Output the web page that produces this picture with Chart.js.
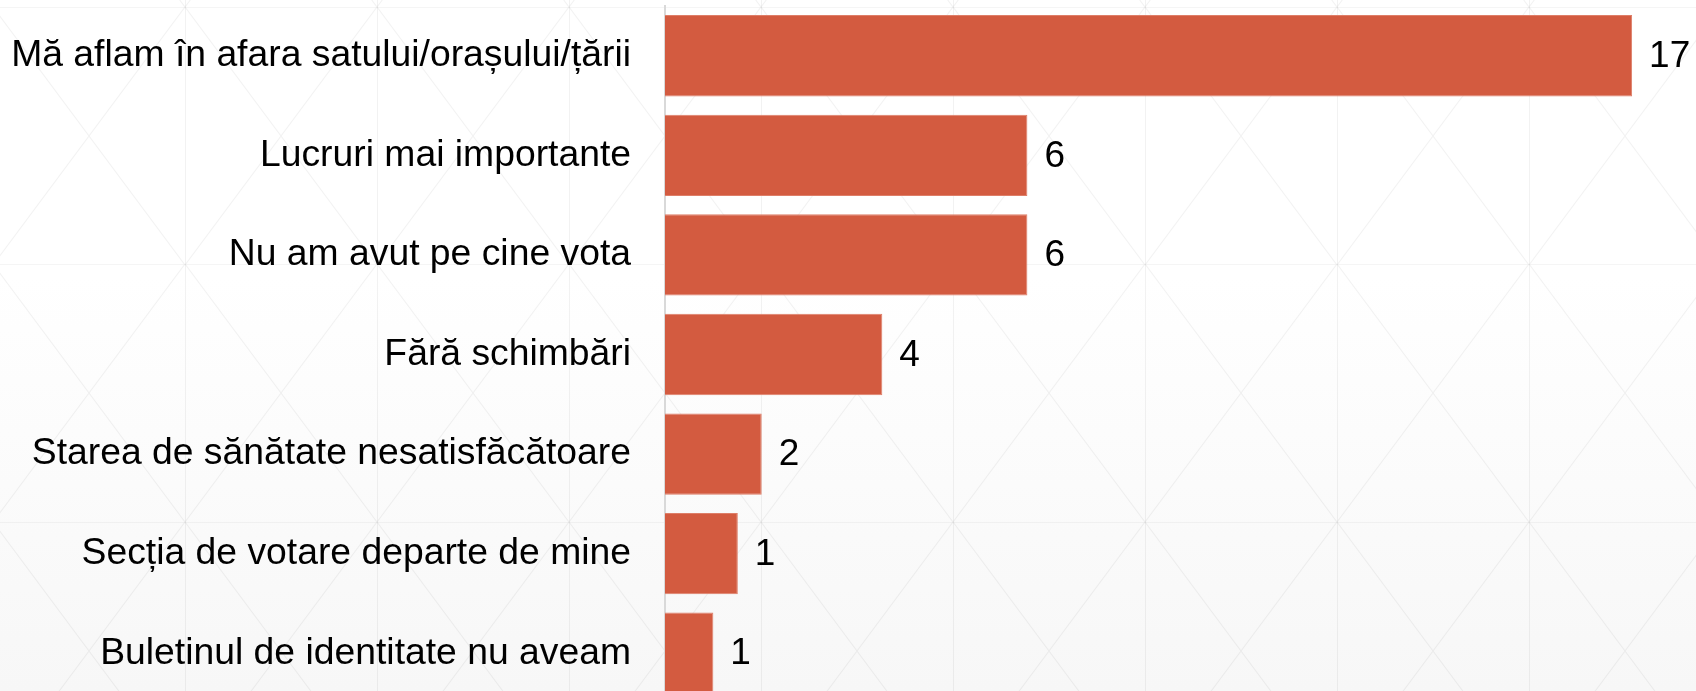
<!DOCTYPE html>
<html lang="ro">
<head>
<meta charset="utf-8">
<script src="https://cdn.jsdelivr.net/npm/chart.js@4"></script>
<style>
  html, body { margin: 0; padding: 0; width: 1696px; height: 691px; overflow: hidden; }
  body { background-color: #ffffff; }
  #wrap { position: absolute; left: 0; top: 0; width: 1696px; height: 703px; }
</style>
</head>
<body>
<div id="wrap"><canvas id="chart"></canvas></div>
<script>
// ---- data ----
const categories = [
  "Mă aflam în afara satului/orașului/țării",
  "Lucruri mai importante",
  "Nu am avut pe cine vota",
  "Fără schimbări",
  "Starea de sănătate nesatisfăcătoare",
  "Secția de votare departe de mine",
  "Buletinul de identitate nu aveam"
];
const shares = [17.0, 6.37, 6.37, 3.82, 1.70, 1.28, 0.85];
const xMin = 0;
const xMax = 18;

// ---- decorative page background (texture + soft gradient) ----
const tile = "<svg xmlns='http://www.w3.org/2000/svg' width='192' height='257.5'>" +
  "<path d='M0.5 0V257.5' stroke='rgba(0,0,0,0.05)' stroke-width='1' fill='none'/>" +
  "<path d='M0 0.5H192' stroke='rgba(0,0,0,0.04)' stroke-width='1' fill='none'/>" +
  "<path d='M0 0L192 257.5M192 0L0 257.5' stroke='rgba(0,0,0,0.05)' stroke-width='1' fill='none'/>" +
  "</svg>";
document.body.style.background =
  "url(\"data:image/svg+xml," + encodeURIComponent(tile) + "\") -7px 7px / 192px 257.5px repeat, " +
  "linear-gradient(#ffffff 0%, #ffffff 40%, #f7f7f7 100%)";

const FONT = "'Liberation Sans', Arial, Helvetica, sans-serif";
Chart.defaults.font.family = FONT;
Chart.defaults.color = "#000000";

const valueLabels = {
  id: "valueLabels",
  afterDatasetsDraw(chart) {
    const ctx = chart.ctx;
    const meta = chart.getDatasetMeta(0);
    ctx.save();
    ctx.font = "37px " + FONT;
    ctx.fillStyle = "#000000";
    ctx.textAlign = "left";
    ctx.textBaseline = "middle";
    meta.data.forEach((bar, i) => {
      const v = chart.data.datasets[0].data[i];
      ctx.fillText(String(Math.round(v)), bar.x + 17, bar.y + 1);
    });
    ctx.restore();
  }
};

new Chart(document.getElementById("chart"), {
  type: "bar",
  data: {
    labels: categories,
    datasets: [{
      data: shares,
      backgroundColor: "#D35B40",
      borderColor: "#DE7E68",
      borderWidth: 1,
      barPercentage: 0.817,
      categoryPercentage: 1.0
    }]
  },
  options: {
    indexAxis: "y",
    responsive: true,
    maintainAspectRatio: false,
    animation: false,
    events: [],
    layout: { padding: { top: 6, right: 7, bottom: 0, left: 0 } },
    plugins: { legend: { display: false }, tooltip: { enabled: false } },
    scales: {
      x: {
        display: false,
        min: xMin,
        max: xMax
      },
      y: {
        z: 1,
        grid: { display: false, drawTicks: false },
        border: { display: true, color: "#d9d9d9", width: 2 },
        ticks: {
          autoSkip: false,
          padding: 34,
          color: "#000000",
          font: { size: 37.3, family: FONT }
        },
        afterFit(scale) {
          scale.width = 665;
          scale.paddingTop = 0;
          scale.paddingBottom = 0;
          scale.paddingLeft = 0;
          scale.paddingRight = 0;
        }
      }
    }
  },
  plugins: [valueLabels]
});
</script>
</body>
</html>
